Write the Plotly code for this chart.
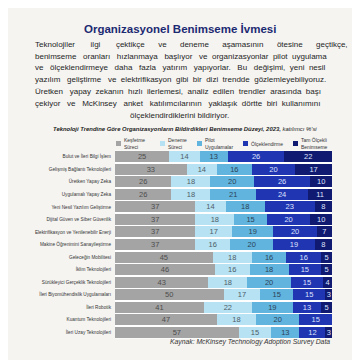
import plotly.graph_objects as go

categories = [
    "Bulut ve İleri Bilgi İşlem",
    "Gelişmiş Bağlantı Teknolojileri",
    "Üretken Yapay Zeka",
    "Uygulamalı Yapay Zeka",
    "Yeni Nesil Yazılım Geliştirme",
    "Dijital Güven ve Siber Güvenlik",
    "Elektrifikasyon ve Yenilenebilir Enerji",
    "Makine Öğrenimini Sanayileştirme",
    "Geleceğin Mobilitesi",
    "İklim Teknolojileri",
    "Sürükleyici Gerçeklik Teknolojileri",
    "İleri Biyomühendislik Uygulamaları",
    "İleri Robotik",
    "Kuantum Teknolojileri",
    "İleri Uzay Teknolojileri",
]
kesfetme = [25, 33, 26, 26, 37, 37, 37, 37, 45, 46, 43, 50, 41, 47, 57]
deneme = [14, 14, 18, 18, 14, 18, 17, 16, 18, 16, 18, 17, 22, 18, 15]
pilot = [13, 16, 20, 21, 18, 15, 19, 20, 16, 18, 20, 15, 19, 20, 13]
olcek = [26, 20, 26, 24, 23, 20, 20, 19, 16, 15, 15, 15, 13, 15, 12]
tam = [22, 17, 10, 11, 8, 10, 7, 8, 5, 5, 4, 3, 5, 0, 3]

series_names = ["Keşfetme<br>Süreci", "Deneme<br>Süreci", "Pilot<br>Uygulamalar",
                "Ölçeklendirme", "Tam Ölçekli<br>Benimseme"]
series_values = [kesfetme, deneme, pilot, olcek, tam]
colors = ["#a4a4a4", "#b6e2f3", "#60b4de", "#2035b1", "#0f1a70"]
text_colors = ["#4d4d4d", "#4f5d68", "#2d4356", "#dfe3ff", "#dfe3ff"]

title = "Organizasyonel Benimseme İvmesi"
body_lines = [
    "Teknolojiler ilgi çektikçe ve deneme aşamasının ötesine geçtikçe,",
    "benimseme oranları hızlanmaya başlıyor ve organizasyonlar pilot uygulama",
    "ve ölçeklendirmeye daha fazla yatırım yapıyorlar. Bu değişimi, yeni nesil",
    "yazılım geliştirme ve elektrifikasyon gibi bir dizi trendde gözlemleyebiliyoruz.",
    "Üretken yapay zekanın hızlı ilerlemesi, analiz edilen trendler arasında başı",
    "çekiyor ve McKinsey anket katılımcılarının yaklaşık dörtte biri kullanımını",
    "ölçeklendirdiklerini bildiriyor.",
]
subtitle = ("<b>Teknoloji Trendine Göre Organizasyonların Bildirdikleri Benimseme Düzeyi, 2023,</b>"
            " katılımcı %'si")
source = "Kaynak: McKinsey Technology Adoption Survey Data"

FONT = "Liberation Sans, Arial, sans-serif"
OFF = 8          # default page body margin of the html page
S = 360 - OFF    # figure size so that it ends at the window edge
BODY_SIZE = 8

# Arial / Liberation Sans advance widths (1/1000 em) used to justify body lines
ADV = dict(zip("abcdefghijklmnopqrstuvwxyz",
               [556, 556, 500, 556, 556, 278, 556, 556, 222, 222, 500, 222, 833,
                556, 556, 556, 556, 333, 500, 278, 556, 500, 722, 500, 500, 500]))
ADV.update({"ı": 278, "ç": 500, "ş": 500, "ğ": 556, "ö": 556, "ü": 556,
            "T": 611, "B": 667, "M": 833, "K": 667, "Ü": 722, ".": 278, ",": 278, " ": 278})


def text_width(s, size):
    return sum(ADV.get(c, 556) for c in s) * size / 1000.0


def justify(line, target, size):
    words = line.split(" ")
    gaps = len(words) - 1
    extra = target - text_width(line, size)
    n_extra = max(0, int(round(extra / (0.278 * size))))
    out = words[0]
    for i, w in enumerate(words[1:]):
        k = n_extra // gaps + (1 if i < n_extra % gaps else 0)
        out += " " + "\u00a0" * k + w
    return out


def py(y):
    return 1 - (y - OFF) / S


def px_(x):
    return (x - OFF) / S


fig = go.Figure()
for name, vals, col, tcol in zip(series_names, series_values, colors, text_colors):
    fig.add_trace(go.Bar(
        y=categories, x=vals, orientation="h", name=name,
        marker=dict(color=col, line=dict(width=0)),
        text=[str(v) if v else "" for v in vals],
        textposition="inside", insidetextanchor="middle", textangle=0,
        textfont=dict(family=FONT, size=7.5, color=tcol),
        showlegend=False, hoverinfo="x+y",
    ))

annotations = []
annotations.append(dict(text="<b>" + title + "</b>", x=px_(180), y=py(29), xref="paper", yref="paper",
                        showarrow=False, font=dict(family=FONT, size=11.5, color="#1c2a72"),
                        xanchor="center", yanchor="middle"))
line_y = [44, 56, 68, 79.5, 91, 103, 115]
line_left = 33
line_right = [346, 325, 323, 325, 319, 319, None]
for ly, t, rr in zip(line_y, body_lines, line_right):
    if rr is None:
        annotations.append(dict(text=t, x=px_(179), y=py(ly), xref="paper", yref="paper",
                                showarrow=False, font=dict(family=FONT, size=BODY_SIZE, color="#1e1e1e"),
                                xanchor="center", yanchor="middle"))
    else:
        annotations.append(dict(text=justify(t, rr - line_left, BODY_SIZE), x=px_(line_left),
                                y=py(ly), xref="paper", yref="paper", showarrow=False,
                                font=dict(family=FONT, size=BODY_SIZE, color="#1e1e1e"),
                                xanchor="left", yanchor="middle"))
annotations.append(dict(text="<i>" + subtitle + "</i>", x=px_(185), y=py(129), xref="paper", yref="paper",
                        showarrow=False, font=dict(family=FONT, size=5.9, color="#222222"),
                        xanchor="center", yanchor="middle"))
annotations.append(dict(text="<i>" + source + "</i>", x=px_(332), y=py(342), xref="paper", yref="paper",
                        showarrow=False, font=dict(family=FONT, size=6.8, color="#333333"),
                        xanchor="right", yanchor="middle"))

# manual legend
legend_x = [116, 160, 197, 243, 293]
shapes = []
for lx, name, col in zip(legend_x, series_names, colors):
    shapes.append(dict(type="rect", xref="paper", yref="paper",
                       x0=px_(lx), x1=px_(lx + 5), y0=py(146), y1=py(141),
                       fillcolor=col, line=dict(width=0)))
    annotations.append(dict(text=name, x=px_(lx + 6), y=py(143.5), xref="paper", yref="paper",
                            showarrow=False, align="left",
                            font=dict(family=FONT, size=5, color="#333333"),
                            xanchor="left", yanchor="middle"))

fig.update_layout(
    width=S, height=S, barmode="stack", bargap=0.12,
    margin=dict(l=0, r=0, t=0, b=0),
    paper_bgcolor="#f5f4f1", plot_bgcolor="#ffffff",
    annotations=annotations, shapes=shapes,
    uniformtext=dict(minsize=7, mode="show"),
    xaxis=dict(domain=[px_(115), px_(332)], range=[0, 100], visible=False, fixedrange=True),
    yaxis=dict(domain=[py(338.5), py(150.5)], autorange="reversed",
               tickfont=dict(family=FONT, size=4.7, color="#333333"),
               ticks="", showline=False, showgrid=False, ticklabelstandoff=3),
    showlegend=False,
)

fig.write_html("out.html")
